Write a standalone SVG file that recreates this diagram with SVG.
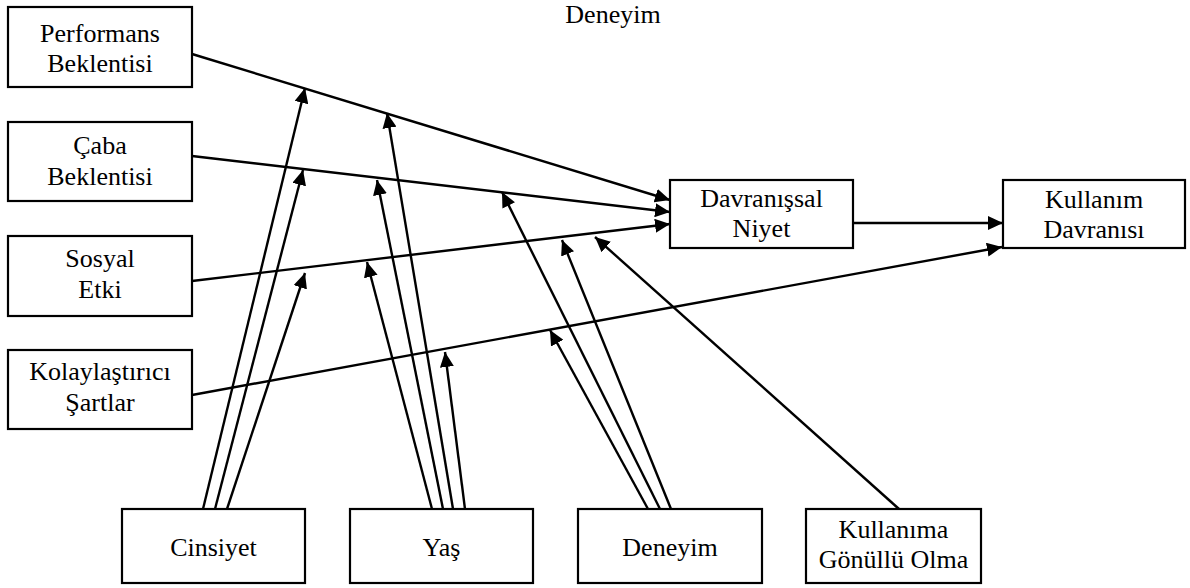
<svg xmlns="http://www.w3.org/2000/svg" width="1190" height="588" viewBox="0 0 1190 588">
<style>
.box{fill:#fff;stroke:#000;stroke-width:2.2}
.t{font-family:"Times New Roman","Liberation Serif","DejaVu Serif",serif;font-size:26px;fill:#000;text-anchor:middle}
.c line{stroke:#000;stroke-width:2.4;marker-end:url(#ah)}
</style>
<defs>
<marker id="ah" markerUnits="userSpaceOnUse" markerWidth="16" markerHeight="14" refX="15" refY="7" orient="auto" viewBox="0 0 16 14">
<path d="M0,0 L15,7 L0,14 z" fill="#000"/>
</marker>
</defs>
<rect width="1190" height="588" fill="#fff"/>
<text class="t" x="613" y="23">Deneyim</text>
<g class="c" id="connectors">
<line x1="192" y1="54" x2="670" y2="200"/>
<line x1="192" y1="156" x2="670" y2="212"/>
<line x1="192" y1="281" x2="670" y2="224"/>
<line x1="192" y1="395" x2="1002" y2="247"/>
<line x1="853" y1="223" x2="1003" y2="223"/>
<line x1="203" y1="509" x2="305" y2="88"/>
<line x1="215" y1="509" x2="303" y2="170"/>
<line x1="227" y1="509" x2="305" y2="273"/>
<line x1="432" y1="509" x2="367" y2="262"/>
<line x1="443" y1="509" x2="377" y2="180"/>
<line x1="453" y1="509" x2="387" y2="113"/>
<line x1="465" y1="509" x2="445" y2="352"/>
<line x1="648" y1="509" x2="550" y2="330"/>
<line x1="660" y1="509" x2="502" y2="192"/>
<line x1="671" y1="509" x2="562" y2="240"/>
<line x1="899" y1="509" x2="595" y2="237"/>
</g>
<g id="performans"><rect class="box" x="8" y="7" width="184" height="80"/><text class="t" x="100" y="42">Performans</text><text class="t" x="100" y="72">Beklentisi</text></g>
<g id="caba"><rect class="box" x="8" y="122" width="184" height="79"/><text class="t" x="100" y="154">Çaba</text><text class="t" x="100" y="185">Beklentisi</text></g>
<g id="sosyal"><rect class="box" x="8" y="236" width="184" height="80"/><text class="t" x="100" y="267">Sosyal</text><text class="t" x="100" y="298">Etki</text></g>
<g id="kolay"><rect class="box" x="8" y="350" width="184" height="79"/><text class="t" x="100" y="380">Kolaylaştırıcı</text><text class="t" x="100" y="411">Şartlar</text></g>
<g id="niyet"><rect class="box" x="670" y="180" width="183" height="68"/><text class="t" x="761.5" y="207">Davranışsal</text><text class="t" x="761.5" y="237">Niyet</text></g>
<g id="kullanim"><rect class="box" x="1003" y="180" width="182" height="68"/><text class="t" x="1094" y="208">Kullanım</text><text class="t" x="1094" y="238">Davranısı</text></g>
<g id="cinsiyet"><rect class="box" x="122" y="509" width="183" height="74"/><text class="t" x="213.5" y="556">Cinsiyet</text></g>
<g id="yas"><rect class="box" x="350" y="509" width="183" height="74"/><text class="t" x="441.5" y="556">Yaş</text></g>
<g id="deneyim"><rect class="box" x="578" y="509" width="184" height="74"/><text class="t" x="670" y="556">Deneyim</text></g>
<g id="gonullu"><rect class="box" x="806" y="509" width="175" height="74"/><text class="t" x="893.5" y="538">Kullanıma</text><text class="t" x="893.5" y="568">Gönüllü Olma</text></g>
</svg>
